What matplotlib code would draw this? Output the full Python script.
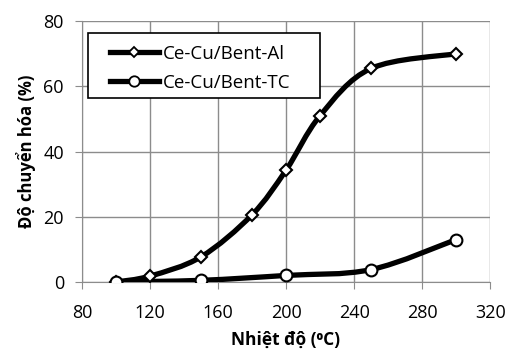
import numpy as np
import matplotlib
matplotlib.use("Agg")
import matplotlib.pyplot as plt
from matplotlib.path import Path
from matplotlib.patches import PathPatch, Rectangle
from matplotlib.lines import Line2D

plt.rcParams['font.family'] = ['Open Sans', 'DejaVu Sans']

# du lieu doc tu hinh
nhiet_do_al = [100, 120, 150, 180, 200, 220, 250, 300]
chuyen_hoa_al = [0, 1.8, 7.7, 20.6, 34.3, 51.0, 65.5, 70.0]
nhiet_do_tc = [100, 150, 200, 250, 300]
chuyen_hoa_tc = [0, 0.5, 2.0, 3.8, 13.0]
nhan = ["Ce-Cu/Bent-Al", "Ce-Cu/Bent-TC"]


def duong_cong(ax, x, y, lw):
    # duong cong muot kieu Excel (Bezier qua cac diem)
    x = np.asarray(x, float)
    y = np.asarray(y, float)
    verts = [(x[0], y[0])]
    codes = [Path.MOVETO]
    n = len(x)
    t = 1 / 6
    for i in range(n - 1):
        x0, y0 = (x[i - 1], y[i - 1]) if i > 0 else (x[i], y[i])
        x3, y3 = (x[i + 2], y[i + 2]) if i + 2 < n else (x[i + 1], y[i + 1])
        c1 = (x[i] + (x[i + 1] - x0) * t, y[i] + (y[i + 1] - y0) * t)
        c2 = (x[i + 1] - (x3 - x[i]) * t, y[i + 1] - (y3 - y[i]) * t)
        verts += [c1, c2, (x[i + 1], y[i + 1])]
        codes += [Path.CURVE4] * 3
    ax.add_patch(PathPatch(Path(verts, codes), fill=False, lw=lw,
                           edgecolor='black', capstyle='round', zorder=3))


fig = plt.figure(figsize=(5.09, 3.52), dpi=100)
ax = fig.add_axes([0.161, 0.199, 0.802, 0.741])

duong_cong(ax, nhiet_do_al, chuyen_hoa_al, 3.8)
duong_cong(ax, nhiet_do_tc, chuyen_hoa_tc, 3.8)
ax.plot(nhiet_do_al, chuyen_hoa_al, ls='none', marker='D', ms=6.3,
        mfc='white', mec='black', mew=1.5, zorder=4)
ax.plot(nhiet_do_tc, chuyen_hoa_tc, ls='none', marker='o', ms=8.5,
        mfc='white', mec='black', mew=1.5, zorder=4)

ax.set_xlim(80, 320)
ax.set_ylim(0, 80)
ax.set_xticks(np.arange(80, 321, 40))
ax.set_yticks(np.arange(0, 81, 20))
ax.grid(True, color='#8c8c8c', lw=1)
ax.set_axisbelow(True)
for s in ['top', 'right']:
    ax.spines[s].set_visible(False)
for s in ['left', 'bottom']:
    ax.spines[s].set_color('#8c8c8c')
ax.tick_params(axis='both', colors='#8c8c8c', labelcolor='black',
               labelsize=13, length=5)
ax.tick_params(axis='x', pad=11)
ax.tick_params(axis='y', pad=8)

ax.set_xlabel("Nhiệt độ (⁰C)", fontsize=12.5, fontweight='bold', labelpad=6)
ax.set_ylabel("Độ chuyển hóa (%)", fontsize=12, fontweight='bold', labelpad=5)

# khung chu thich kieu Excel
ax.add_patch(Rectangle((0.0147, 0.705), 0.569, 0.249, transform=ax.transAxes,
                       facecolor='white', edgecolor='black', lw=1.2, zorder=5))
handles = [
    Line2D([], [], color='black', lw=3.8, marker='D', ms=5.5, mfc='white',
           mec='black', mew=1.3),
    Line2D([], [], color='black', lw=3.8, marker='o', ms=7.5, mfc='white',
           mec='black', mew=1.3),
]
leg = ax.legend(handles, nhan, loc='upper left', bbox_to_anchor=(0.055, 0.93),
                fontsize=13.5, frameon=False, handlelength=2.6,
                handletextpad=0.2, borderpad=0.3, labelspacing=0.58,
                borderaxespad=0)
leg.set_zorder(6)

fig.savefig("out.png", dpi=100)
